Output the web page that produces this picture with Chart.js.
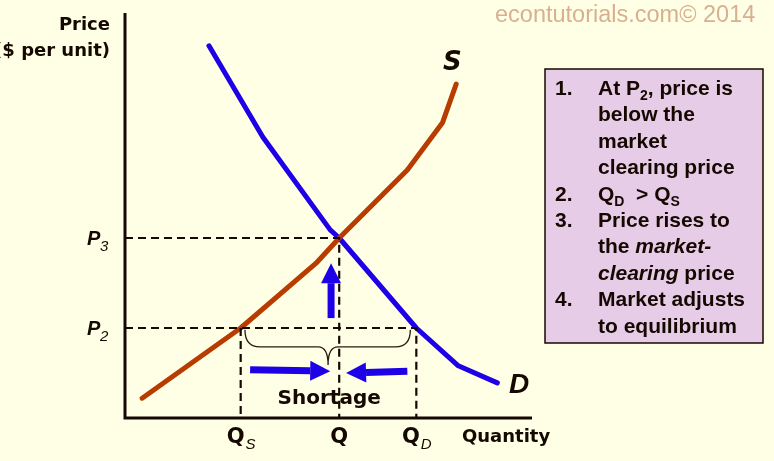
<!DOCTYPE html>
<html>
<head>
<meta charset="utf-8">
<script src="https://cdn.jsdelivr.net/npm/chart.js@4/dist/chart.umd.min.js"></script>
<style>
  html, body { margin: 0; padding: 0; background: #ffffe6; overflow: hidden; }
  #wrap { width: 774px; height: 461px; position: relative; }
</style>
</head>
<body>
<div id="wrap"><canvas id="market" width="774" height="461"></canvas></div>
<script>
// price / quantity levels
const P3 = 4, P2 = 2;
const Q = 5, QS = 2.7, QD = 6.8;

// curves (quantity, price)
const supplyQ = [0.4, 2.7, 4.46, 5.0, 6.59, 7.41, 7.73];
const supplyP = [0.44, 2.0, 3.44, 4.0, 5.51, 6.56, 7.42];
const demandQ = [1.96, 3.22, 4.79, 5.0, 6.8, 7.78, 8.69];
const demandP = [8.27, 6.24, 4.18, 4.0, 2.0, 1.16, 0.78];

// blue arrows: [fromQ, fromP, toQ, toP]
const arrows = [
    [4.81, 2.22, 4.81, 3.44],
    [2.92, 1.07, 4.79, 1.04],
    [6.59, 1.04, 5.16, 1.0]
];
// curly brace under the shortage: left, right, top, flat, tipQ, tipP
const brace = [2.8, 6.66, 1.96, 1.58, 4.74, 1.18];

const boxLines = [
    ['1.', [['At P'], ['2', 'sub'], [', price is']]],
    ['', [['below the']]],
    ['', [['market']]],
    ['', [['clearing price']]],
    ['2.', [['Q'], ['D', 'sub'], ['  > Q'], ['S', 'sub']]],
    ['3.', [['Price rises to']]],
    ['', [['the '], ['market-', 'i']]],
    ['', [['clearing', 'i'], [' price']]],
    ['4.', [['Market adjusts']]],
    ['', [['to equilibrium']]]
];

const ink = '#140800';
const pts = (xs, ys) => xs.map((x, i) => ({x: x, y: ys[i]}));
const dashed = (data) => ({
    data: data, borderColor: ink, borderWidth: 2.2, borderDash: [8, 5],
    pointRadius: 0, showLine: true, fill: false, tension: 0
});

const annotate = {
    id: 'annotate',
    beforeDraw(chart) {
        const c = chart.ctx;
        c.save();
        c.fillStyle = '#ffffe6';
        c.fillRect(0, 0, chart.width, chart.height);
        c.restore();
    },
    afterDatasetsDraw(chart) {
        const c = chart.ctx, a = chart.chartArea;
        const xs = chart.scales.x, ys = chart.scales.y;
        const px = v => xs.getPixelForValue(v), py = v => ys.getPixelForValue(v);
        c.save();

        // axes
        c.strokeStyle = ink; c.lineWidth = 3;
        c.beginPath();
        c.moveTo(a.left, a.top); c.lineTo(a.left, a.bottom); c.lineTo(a.right, a.bottom);
        c.stroke();

        // brace
        const [bl, br, bt, bf, tq, tp] = brace;
        const r = 10;
        c.strokeStyle = '#2a1a10'; c.lineWidth = 1.3;
        c.beginPath();
        c.moveTo(px(bl), py(bt));
        c.quadraticCurveTo(px(bl), py(bf), px(bl) + r * 1.5, py(bf));
        c.lineTo(px(tq) - r, py(bf));
        c.quadraticCurveTo(px(tq), py(bf), px(tq), py(tp));
        c.quadraticCurveTo(px(tq), py(bf), px(tq) + r, py(bf));
        c.lineTo(px(br) - r * 1.5, py(bf));
        c.quadraticCurveTo(px(br), py(bf), px(br), py(bt));
        c.stroke();

        // arrows
        c.fillStyle = '#1e00e6'; c.strokeStyle = '#1e00e6';
        arrows.forEach(([q1, p1, q2, p2]) => {
            const x1 = px(q1), y1 = py(p1), x2 = px(q2), y2 = py(p2);
            const ang = Math.atan2(y2 - y1, x2 - x1);
            const hl = 20, hw = 10;
            const bx = x2 - hl * Math.cos(ang), by = y2 - hl * Math.sin(ang);
            c.lineWidth = 7; c.lineCap = 'butt';
            c.beginPath(); c.moveTo(x1, y1); c.lineTo(bx, by); c.stroke();
            c.beginPath();
            c.moveTo(x2, y2);
            c.lineTo(bx + hw * Math.sin(ang), by - hw * Math.cos(ang));
            c.lineTo(bx - hw * Math.sin(ang), by + hw * Math.cos(ang));
            c.closePath(); c.fill();
        });

        c.fillStyle = ink;
        c.textBaseline = 'alphabetic';
        const geo = 'bold 18px "DejaVu Sans"';
        const qfont = 'bold 21px "DejaVu Sans"';

        // axis titles
        c.font = geo; c.textAlign = 'right';
        c.fillText('Price', 110, 30);
        c.fillText('($ per unit)', 110, 56);
        c.textAlign = 'left';
        c.fillText('Quantity', 462, 442);
        c.font = 'bold 20px "DejaVu Sans"'; c.textAlign = 'center';
        c.fillText('Shortage', px(Q) - 10, 404);

        // quantity labels
        [[QS, 'S'], [Q, ''], [QD, 'D']].forEach(([v, s]) => {
            c.font = qfont;
            const w = c.measureText('Q').width;
            c.font = 'italic 15px "Liberation Sans"';
            const sw = s ? c.measureText(s).width : 0;
            const x0 = px(v) - (w + sw) / 2;
            c.textAlign = 'left';
            c.font = qfont; c.fillText('Q', x0, 443);
            if (s) { c.font = 'italic 15px "Liberation Sans"'; c.fillText(s, x0 + w + 1, 449); }
        });

        // price labels
        [[P3, '3'], [P2, '2']].forEach(([v, s]) => {
            const y = py(v) + 7;
            c.textAlign = 'left';
            c.font = 'bold italic 20px "Liberation Sans"';
            c.fillText('P', 87, y);
            c.font = 'italic 15px "Liberation Sans"';
            c.fillText(s, 100, y + 6);
        });

        // curve labels
        c.font = 'bold italic 26px "DejaVu Sans"';
        c.fillText('S', 443, 70);
        c.font = 'bold italic 28px "Liberation Sans"';
        c.fillText('D', 509, 393);

        // watermark
        c.font = '23.5px "Liberation Sans"';
        c.fillStyle = '#d8b090';
        c.fillText('econtutorials.com\u00a9 2014', 495, 22);

        // explanation box
        c.fillStyle = '#e6cce6';
        c.fillRect(545, 69, 218, 274);
        c.strokeStyle = ink; c.lineWidth = 1.5;
        c.strokeRect(545, 69, 218, 274);
        c.fillStyle = ink;
        boxLines.forEach(([num, runs], i) => {
            const y = 95 + i * 26.4;
            c.font = 'bold 21px "Liberation Sans"';
            if (num) c.fillText(num, 555, y);
            let x = 598;
            runs.forEach(([t, st]) => {
                if (st === 'sub') {
                    c.font = 'bold 14px "Liberation Sans"';
                    c.fillText(t, x, y + 5);
                } else {
                    c.font = (st === 'i' ? 'italic ' : '') + 'bold 21px "Liberation Sans"';
                    c.fillText(t, x, y);
                }
                x += c.measureText(t).width;
            });
        });
        c.restore();
    }
};

new Chart(document.getElementById('market'), {
    type: 'scatter',
    data: {
        datasets: [
            dashed([{x: 0, y: P3}, {x: Q, y: P3}, {x: Q, y: 0}]),
            dashed([{x: 0, y: P2}, {x: QD, y: P2}, {x: QD, y: 0}]),
            dashed([{x: QS, y: P2}, {x: QS, y: 0}]),
            {
                label: 'S', data: pts(supplyQ, supplyP), showLine: true,
                borderColor: '#b83c00', borderWidth: 5, pointRadius: 0,
                borderCapStyle: 'round', borderJoinStyle: 'round', tension: 0
            },
            {
                label: 'D', data: pts(demandQ, demandP), showLine: true,
                borderColor: '#1e00e6', borderWidth: 5, pointRadius: 0,
                borderCapStyle: 'round', borderJoinStyle: 'round', tension: 0
            }
        ]
    },
    options: {
        responsive: false,
        animation: false,
        devicePixelRatio: 1,
        layout: { padding: { left: 125, right: 242, top: 13, bottom: 43 } },
        plugins: { legend: { display: false }, tooltip: { enabled: false } },
        scales: {
            x: { type: 'linear', min: 0, max: 9.5, display: false },
            y: { type: 'linear', min: 0, max: 9, display: false }
        }
    },
    plugins: [annotate]
});
</script>
</body>
</html>
